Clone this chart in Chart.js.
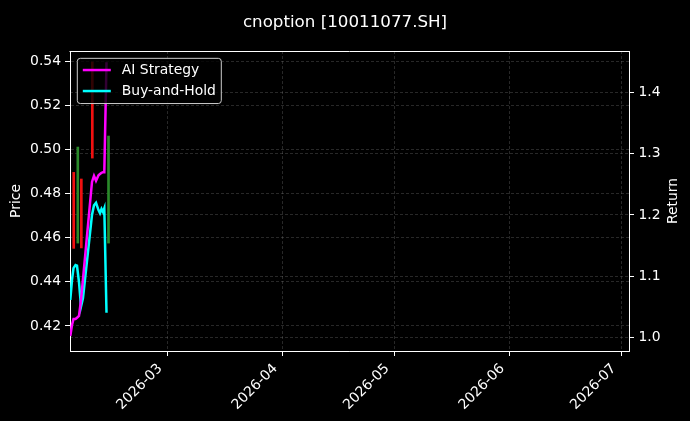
<!DOCTYPE html>
<html><head><meta charset="utf-8">
<script src="https://cdn.jsdelivr.net/npm/chart.js@4.4.0/dist/chart.umd.min.js"></script>
<style>html,body{margin:0;padding:0;background:#000;overflow:hidden}canvas{display:block}</style>
</head><body>
<canvas id="c" width="690" height="421"></canvas>
<script>
// time axis: days since 2026-01-01 (fractional)
const timeDays      = [32.83, 33.29, 33.69, 34.23, 34.63, 35.17, 35.71, 36.24, 38.66, 39.20, 39.74, 40.41, 40.81, 41.22, 41.62, 41.97, 42.56];
const aiReturn      = [1.002, 1.020, 1.030, 1.030, 1.032, 1.035, 1.061, 1.095, 1.254, 1.264, 1.256, 1.265, 1.267, 1.269, 1.270, 1.270, 1.450];
const buyHoldReturn = [1.061, 1.094, 1.113, 1.118, 1.117, 1.090, 1.050, 1.064, 1.200, 1.216, 1.220, 1.208, 1.203, 1.210, 1.205, 1.211, 1.040];

// candles (price axis)
const candleDays  = [33.75, 34.85, 35.80, 38.75, 43.10];
const candleOpen  = [0.4897, 0.4576, 0.4867, 0.5398, 0.4576];
const candleClose = [0.4552, 0.5012, 0.4554, 0.4962, 0.5062];

const priceTicks = [0.42, 0.44, 0.46, 0.48, 0.50, 0.52, 0.54];
const priceTickLabels = ['0.42', '0.44', '0.46', '0.48', '0.50', '0.52', '0.54'];
const returnTicks = [1.0, 1.1, 1.2, 1.3, 1.4];
const returnTickLabels = ['1.0', '1.1', '1.2', '1.3', '1.4'];
const monthTickDays = [59, 90, 120, 151, 181];
const monthTickLabels = ['2026-03', '2026-04', '2026-05', '2026-06', '2026-07'];

const FONT = "'DejaVu Sans', 'Liberation Sans', sans-serif";
Chart.defaults.font.family = FONT;
Chart.defaults.font.size = 13.9;
Chart.defaults.color = '#ffffff';

const GRID = 'rgba(150,150,150,0.45)';

const decor = {
  id: 'decor',
  beforeDraw(chart) {
    const ctx = chart.ctx;
    ctx.save();
    ctx.fillStyle = '#000';
    ctx.fillRect(0, 0, chart.width, chart.height);
    ctx.restore();
  },
  afterDraw(chart) {
    const ctx = chart.ctx, a = chart.chartArea;
    ctx.save();
    // top spine
    ctx.strokeStyle = '#fff';
    ctx.lineWidth = 1;
    ctx.beginPath();
    ctx.moveTo(a.left - 0.5, Math.round(a.top) + 0.5);
    ctx.lineTo(a.right + 0.5, Math.round(a.top) + 0.5);
    ctx.stroke();
    // right axis title (reads bottom-to-top)
    ctx.fillStyle = '#fff';
    ctx.font = '13.9px ' + FONT;
    ctx.textAlign = 'center';
    ctx.textBaseline = 'middle';
    ctx.save();
    ctx.translate(chart.width - 16.8, (a.top + a.bottom) / 2);
    ctx.rotate(-Math.PI / 2);
    ctx.fillText('Return', 0, 0);
    ctx.restore();
    // legend inside the plot
    const items = chart.data.datasets.filter(d => d.type === 'line');
    const x0 = a.left + 7.3, y0 = a.top + 7.3, w = 144, h = 45.2;
    ctx.beginPath();
    ctx.roundRect(x0, y0, w, h, 3);
    ctx.fillStyle = 'rgba(0,0,0,0.8)';
    ctx.fill();
    ctx.strokeStyle = '#cccccc';
    ctx.lineWidth = 1;
    ctx.stroke();
    items.forEach((d, i) => {
      const y = y0 + 11.7 + i * 21;
      ctx.beginPath();
      ctx.strokeStyle = d.borderColor;
      ctx.lineWidth = 2.5;
      ctx.moveTo(x0 + 5.5, y);
      ctx.lineTo(x0 + 33.5, y);
      ctx.stroke();
      ctx.fillStyle = '#fff';
      ctx.textAlign = 'left';
      ctx.fillText(d.label, x0 + 44.5, y);
    });
    ctx.restore();
  }
};

new Chart(document.getElementById('c'), {
  type: 'line',
  data: {
    datasets: [
      {
        type: 'line', label: 'AI Strategy', yAxisID: 'y1', order: 0,
        data: timeDays.map((t, i) => ({x: t, y: aiReturn[i]})),
        borderColor: '#ff00ff', borderWidth: 2.5, pointRadius: 0, tension: 0, fill: false
      },
      {
        type: 'line', label: 'Buy-and-Hold', yAxisID: 'y1', order: 1,
        data: timeDays.map((t, i) => ({x: t, y: buyHoldReturn[i]})),
        borderColor: '#00ffff', borderWidth: 2.5, pointRadius: 0, tension: 0, fill: false
      },
      {
        type: 'bar', label: 'candles', yAxisID: 'y', order: 2,
        data: candleDays.map((t, i) => ({x: t, y: [Math.min(candleOpen[i], candleClose[i]), Math.max(candleOpen[i], candleClose[i])]})),
        backgroundColor: candleDays.map((t, i) => candleClose[i] >= candleOpen[i] ? '#2a8a2a' : '#f01010'),
        borderWidth: 0, barThickness: 2, grouped: false
      }
    ]
  },
  options: {
    responsive: false,
    animation: false,
    devicePixelRatio: 1,
    layout: {padding: 0},
    plugins: {
      legend: {display: false},
      tooltip: {enabled: false},
      title: {
        display: true, text: 'cnoption [10011077.SH]', color: '#fff',
        font: {size: 16.7, weight: 'normal', family: FONT},
        padding: {top: 13, bottom: 18}
      }
    },
    scales: {
      x: {
        type: 'linear', min: 32.75, max: 183.0, offset: false,
        afterBuildTicks: s => { s.ticks = monthTickDays.map(v => ({value: v})); },
        afterFit: s => { s.height = 70; },
        ticks: {
          autoSkip: false, maxRotation: 45, minRotation: 45, padding: 4.5, labelOffset: -7.5,
          color: '#fff', font: {size: 13.9},
          callback: (v, i) => monthTickLabels[i]
        },
        grid: {offset: false, color: GRID, lineWidth: 0.6, tickLength: 5, tickColor: '#fff', tickWidth: 1, drawTicks: true},
        border: {display: true, color: '#fff', width: 1, dash: [3, 2]}
      },
      y: {
        type: 'linear', position: 'left', min: 0.4086, max: 0.5448,
        afterBuildTicks: s => { s.ticks = priceTicks.map(v => ({value: v})); },
        afterFit: s => { s.width = 70; },
        ticks: {
          autoSkip: false, padding: 4, color: '#fff', font: {size: 13.9},
          callback: (v, i) => priceTickLabels[i]
        },
        title: {display: true, text: 'Price', color: '#fff', font: {size: 13.9}, padding: {top: 8.5, bottom: 0}},
        grid: {color: GRID, lineWidth: 0.6, tickLength: 5, tickColor: '#fff', tickWidth: 1},
        border: {display: true, color: '#fff', width: 1, dash: [3, 2]}
      },
      y1: {
        type: 'linear', position: 'right', min: 0.9775, max: 1.4682,
        afterBuildTicks: s => { s.ticks = returnTicks.map(v => ({value: v})); },
        afterFit: s => { s.width = 61; },
        ticks: {
          autoSkip: false, padding: 4.5, color: '#fff', font: {size: 13.9},
          callback: (v, i) => returnTickLabels[i]
        },
        grid: {color: GRID, lineWidth: 0.6, tickLength: 5, tickColor: '#fff', tickWidth: 1},
        border: {display: true, color: '#fff', width: 1, dash: [3, 2]}
      }
    }
  },
  plugins: [decor]
});
</script>
</body></html>
